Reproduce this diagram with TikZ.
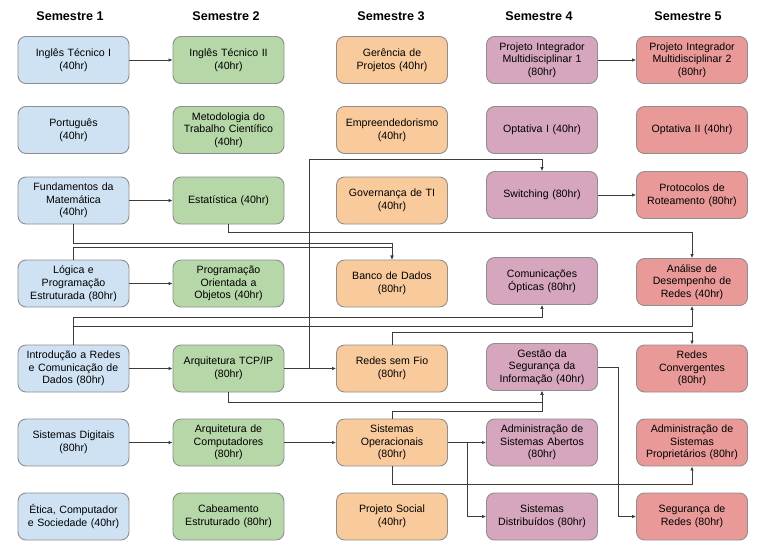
\documentclass[tikz,border=0pt]{standalone}
\usepackage{fontspec}
\setmainfont{Liberation Sans}
\usetikzlibrary{arrows.meta}
\definecolor{cblue}{HTML}{CFE2F3}
\definecolor{cgreen}{HTML}{B6D7A8}
\definecolor{corange}{HTML}{F9CB9C}
\definecolor{cpurple}{HTML}{D5A6BD}
\definecolor{cred}{HTML}{EA9999}
\definecolor{cborder}{HTML}{8E8E8E}
\definecolor{cline}{HTML}{3C3C3C}
\tikzset{
  course/.style={draw=cborder, line width=0.9pt, rounded corners=8pt,
    minimum width=111pt, minimum height=47pt, text width=108pt, align=center,
    inner sep=0pt, font=\fontsize{10.6}{12.7}\selectfont},
  sem1/.style={course, fill=cblue},
  sem2/.style={course, fill=cgreen},
  sem3/.style={course, fill=corange},
  sem4/.style={course, fill=cpurple},
  sem5/.style={course, fill=cred},
  header/.style={font=\fontsize{12.6}{14}\selectfont\bfseries},
  link/.style={draw=cline, line width=0.8pt, -{Latex[length=4pt,width=3.6pt]}},
}
\begin{document}
\begin{tikzpicture}[x=1pt,y=-1pt]
\useasboundingbox (0,0) rectangle (767,552);
% headers
\node[header] (h1) at (70,16) {Semestre 1};
\node[header] (h2) at (226,16) {Semestre 2};
\node[header] (h3) at (391,16) {Semestre 3};
\node[header] (h4) at (539,16) {Semestre 4};
\node[header] (h5) at (688,16) {Semestre 5};
% semestre 1
\node[sem1] (it1) at (73.5,60) {Inglês Técnico I\\(40hr)};
\node[sem1] (por) at (73.5,130) {Português\\(40hr)};
\node[sem1] (fun) at (73.5,200.5) {Fundamentos da\\Matemática\\(40hr)};
\node[sem1] (log) at (73.5,283.5) {Lógica e\\Programação\\Estruturada (80hr)};
\node[sem1] (int) at (73.5,368.5) {Introdução a Redes\\e Comunicação de\\Dados (80hr)};
\node[sem1] (sdg) at (73.5,442.5) {Sistemas Digitais\\(80hr)};
\node[sem1] (eti) at (73.5,516.5) {Ética, Computador\\e Sociedade (40hr)};
% semestre 2
\node[sem2] (it2) at (228.5,60) {Inglês Técnico II\\(40hr)};
\node[sem2] (met) at (228.5,130) {Metodologia do\\Trabalho Científico\\(40hr)};
\node[sem2] (est) at (228.5,200.5) {Estatística (40hr)};
\node[sem2] (poo) at (228.5,283.5) {Programação\\Orientada a\\Objetos (40hr)};
\node[sem2] (tcp) at (228.5,368.5) {Arquitetura TCP/IP\\(80hr)};
\node[sem2] (arc) at (228.5,442.5) {Arquitetura de\\Computadores\\(80hr)};
\node[sem2] (cab) at (228.5,516.5) {Cabeamento\\Estruturado (80hr)};
% semestre 3
\node[sem3] (ger) at (392,60) {Gerência de\\Projetos (40hr)};
\node[sem3] (emp) at (392,130) {Empreendedorismo\\(40hr)};
\node[sem3] (gov) at (392,200.5) {Governança de TI\\(40hr)};
\node[sem3] (bd) at (392,283.5) {Banco de Dados\\(80hr)};
\node[sem3] (rsf) at (392,368.5) {Redes sem Fio\\(80hr)};
\node[sem3] (so) at (392,442.5) {Sistemas\\Operacionais\\(80hr)};
\node[sem3] (ps) at (392,516.5) {Projeto Social\\(40hr)};
% semestre 4
\node[sem4] (pi1) at (542,60) {Projeto Integrador\\Multidisciplinar 1\\(80hr)};
\node[sem4] (op1) at (542,130) {Optativa I (40hr)};
\node[sem4] (sw) at (542,195) {Switching (80hr)};
\node[sem4] (co) at (542,281) {Comunicações\\Ópticas (80hr)};
\node[sem4] (ges) at (542,367) {Gestão da\\Segurança da\\Informação (40hr)};
\node[sem4] (asa) at (542,442.5) {Administração de\\Sistemas Abertos\\(80hr)};
\node[sem4] (sd) at (542,516.5) {Sistemas\\Distribuídos (80hr)};
% semestre 5
\node[sem5] (pi2) at (692,60) {Projeto Integrador\\Multidisciplinar 2\\(80hr)};
\node[sem5] (op2) at (692,130) {Optativa II (40hr)};
\node[sem5] (pr) at (692,195) {Protocolos de\\Roteamento (80hr)};
\node[sem5] (ana) at (692,282) {Análise de\\Desempenho de\\Redes (40hr)};
\node[sem5] (rc) at (692,368.5) {Redes\\Convergentes\\(80hr)};
\node[sem5] (asp) at (692,442.5) {Administração de\\Sistemas\\Proprietários (80hr)};
\node[sem5] (sr) at (692,516.5) {Segurança de\\Redes (80hr)};
% straight links
\draw[link] (it1) -- (it2);
\draw[link] (pi1) -- (pi2);
\draw[link] (fun) -- (est);
\draw[link] (log) -- (poo);
\draw[link] (int) -- (tcp);
\draw[link] (tcp) -- (rsf);
\draw[link] (sdg) -- (arc);
\draw[link] (arc) -- (so);
\draw[link] (so) -- (asa);
\draw[link] (sw) -- (pr);
% routed links
\draw[link] (fun.south) -- ++(0,18.5) -| (bd.north);
\draw[link] (log.north) -- ++(0,-12) -| (bd.north);
\draw[link] (est.south) -- ++(0,8) -| (ana.north);
\draw[link] (int.north) -- ++(0,-27) -| (co.south);
\draw[link] (int.north) -- ++(0,-18) -| (ana.south);
\draw[link] (tcp.east) -- ++(25,0) -- ++(0,-209.5) -| (sw.north);
\draw[link] (tcp.south) -- ++(0,10) -| (ges.south);
\draw[link] (rsf.north) -- ++(0,-12) -| (rc.north);
\draw[link] (so.north) -- ++(0,-7) -| (ges.south);
\draw[link] (so.east) -- ++(19,0) |- (sd.west);
\draw[link] (so.south) -- ++(0,18) -| (asp.south);
\draw[link] (ges.east) -- ++(20,0) |- (sr.west);
\end{tikzpicture}
\end{document}
